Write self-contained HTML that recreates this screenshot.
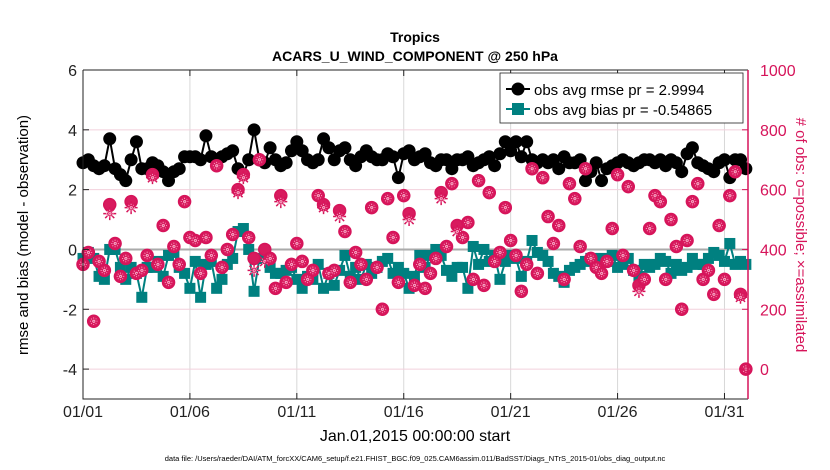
<!DOCTYPE html>
<html><head><meta charset="utf-8"><style>
body{margin:0;background:#fff;}
svg{display:block;font-family:"Liberation Sans",Arial,sans-serif;}
</style></head><body>
<svg id="chart" width="830" height="470" viewBox="0 0 830 470" xmlns="http://www.w3.org/2000/svg">
<text x="415" y="42" text-anchor="middle" font-size="14" font-weight="bold">Tropics</text>
<text x="415" y="61" text-anchor="middle" font-size="14" font-weight="bold">ACARS_U_WIND_COMPONENT @ 250 hPa</text>
<g id="grid"></g>
<g id="marks"></g>
<g id="axes"></g>
<text transform="translate(28,235) rotate(-90)" text-anchor="middle" font-size="15">rmse and bias (model - observation)</text>
<text transform="translate(796,235) rotate(90)" text-anchor="middle" font-size="15" fill="#d6145a"># of obs: o=possible; ×=assimilated</text>
<text x="415" y="441" text-anchor="middle" font-size="16">Jan.01,2015 00:00:00 start</text>
<text x="415" y="461" text-anchor="middle" font-size="7.5">data file: /Users/raeder/DAI/ATM_forcXX/CAM6_setup/f.e21.FHIST_BGC.f09_025.CAM6assim.011/BadSST/Diags_NTrS_2015-01/obs_diag_output.nc</text>
<g>
<rect x="500" y="73" width="243" height="50" fill="#fff" stroke="#222" stroke-width="0.8"/>
<line x1="506" y1="89" x2="530" y2="89" stroke="#000" stroke-width="2"/>
<circle cx="518" cy="89" r="6.5" fill="#000"/>
<text x="534" y="95" font-size="15">obs avg rmse pr = 2.9994</text>
<line x1="506" y1="109" x2="530" y2="109" stroke="#008080" stroke-width="2"/>
<rect x="512" y="103" width="12" height="12" fill="#008080"/>
<text x="534" y="115" font-size="15">obs avg bias pr = -0.54865</text>
</g>
</svg>
<script>
const tickDays = [0,5,10,15,20,25,30];
const tickLabels = ["01/01","01/06","01/11","01/16","01/21","01/26","01/31"];
const leftTicks = [-4,-2,0,2,4,6];
const rightTicks = [0,200,400,600,800,1000];
const rmse = [2.9,3.0,2.8,2.7,2.8,3.7,2.7,2.5,2.3,3.0,3.6,2.7,2.7,2.9,2.8,2.6,2.3,2.6,2.7,3.1,
3.1,3.1,3.0,3.8,3.1,3.0,3.1,3.2,3.3,2.7,2.5,3.0,4.0,3.0,2.9,3.4,3.0,2.8,2.9,3.3,
3.6,3.3,3.0,2.9,3.0,3.7,3.4,3.0,3.3,3.4,3.0,2.8,3.1,3.3,3.1,3.0,3.0,3.2,3.1,2.4,
3.2,3.3,3.0,3.1,3.2,2.9,2.8,3.0,3.0,2.7,3.0,3.0,3.1,2.8,2.9,3.0,3.1,2.8,3.2,3.6,
3.3,3.6,3.1,3.6,3.0,2.9,3.0,2.9,3.0,2.7,3.1,2.9,2.9,3.0,2.3,2.6,2.9,2.3,2.7,2.8,
2.9,3.0,2.9,2.8,2.9,3.0,3.0,2.9,3.0,2.8,3.0,2.9,2.6,3.2,3.4,2.9,2.8,2.7,2.6,2.9,3.0,2.4,3.0,3.0,2.7];
const bias = [-0.3,-0.1,-0.3,-0.9,-1.0,0.0,0.0,-0.6,-1.0,-0.6,-0.8,-1.6,-0.6,-0.6,-0.4,-0.9,-0.2,-0.1,-0.6,-0.8,
-1.3,-0.4,-1.6,-0.5,-0.4,-1.3,-1.0,-0.5,-0.3,0.6,0.7,0.0,-1.4,-0.3,-0.3,-0.6,-0.8,-0.8,-0.7,-0.6,
-1.0,-1.3,-0.9,-1.0,-0.5,-1.3,-0.8,-1.2,-0.7,-0.2,-0.9,-0.6,-1.0,-0.5,-0.8,-0.6,-0.4,-0.3,-0.8,-0.6,
-0.8,-1.3,-0.9,-0.2,-0.6,-0.2,0.0,-0.2,-0.7,-0.9,-0.6,-0.6,-1.3,0.1,-0.5,0.0,-0.4,-0.2,-1.0,-0.4,
-0.2,-0.3,-0.9,-0.4,0.3,-0.1,-0.2,-0.4,-0.8,-0.9,-1.1,-0.7,-0.6,-0.5,-0.4,-0.3,-0.4,-0.3,-0.4,-0.2,
-0.6,-0.5,-0.3,-0.7,-0.9,-0.5,-0.6,-0.5,-0.3,-0.4,-0.8,-0.5,-0.7,-0.6,-0.3,-0.5,-0.5,-0.3,-0.1,-0.2,-0.4,0.2,-0.5,-0.4,-0.5];
const possible = [350,390,160,360,330,550,420,310,370,560,320,330,380,650,350,480,290,410,350,560,
440,430,320,440,380,680,340,400,450,600,650,440,370,700,400,370,270,580,290,350,
420,360,300,330,580,550,320,330,530,460,290,390,350,300,540,340,200,570,440,290,
580,520,280,350,270,320,370,590,410,620,480,440,490,300,630,280,590,360,390,540,
430,380,260,350,670,320,640,510,420,480,300,620,570,410,670,370,340,320,360,470,
650,380,610,330,280,300,470,580,560,300,500,410,200,430,560,620,300,330,250,480,
300,580,660,250,0];
const assimilated = [350,390,160,360,330,520,420,310,370,540,320,330,380,640,350,480,290,410,350,560,
440,430,320,440,380,680,340,400,450,590,640,440,330,700,360,370,270,560,290,350,
420,360,300,330,580,540,320,330,510,460,290,390,350,300,540,340,200,570,440,290,
580,500,280,350,270,320,370,570,410,620,460,440,490,300,630,280,590,360,390,540,
430,380,260,350,670,320,640,510,420,480,300,620,570,410,670,370,340,320,360,470,
650,380,610,330,260,300,470,580,560,300,500,410,200,430,560,620,300,330,250,480,
300,580,660,240,0];

const X0=83, X1=748, D0=0, D1=31.1;
const Y0=70, Y1=399, V0=6, V1=-5;
const x = d => X0 + (d-D0)/(D1-D0)*(X1-X0);
const y = v => Y0 + (V0-v)/(V0-V1)*(Y1-Y0);
const yr = c => y((c-400)/100);
const NS="http://www.w3.org/2000/svg";
function mk(tag, attrs, parent){const e=document.createElementNS(NS,tag);for(const k in attrs)e.setAttribute(k,attrs[k]);parent.appendChild(e);return e;}
function star(cx,cy,s){return `M${cx-s},${cy} H${cx+s} M${cx},${cy-s} V${cy+s} M${cx-s*0.7},${cy-s*0.7} L${cx+s*0.7},${cy+s*0.7} M${cx-s*0.7},${cy+s*0.7} L${cx+s*0.7},${cy-s*0.7}`;}
const grid=document.getElementById('grid'), marks=document.getElementById('marks'), axes=document.getElementById('axes');

tickDays.forEach((d,i)=>{
  const g=mk('line',{x1:x(d),x2:x(d),y1:Y0,y2:Y1,stroke:'#d8d8d8','stroke-width':1},grid);
  
  
  const t=mk('line',{x1:x(d),x2:x(d),y1:Y1,y2:Y1-6,stroke:'#222'},axes);
  
  
  const t2=mk('line',{x1:x(d),x2:x(d),y1:Y0,y2:Y0+6,stroke:'#222'},axes);
  
  
  const l=mk('text',{x:x(d),y:Y1+18,'text-anchor':'middle','font-size':16,fill:'#222'},axes);
  l.textContent=tickLabels[i];
  
  
});
rightTicks.forEach(c=>{
  const g=mk('line',{x1:X0,x2:X1,y1:yr(c),y2:yr(c),stroke:'#f2d0dc','stroke-width':1},grid);
  
  
  const t=mk('line',{x1:X1,x2:X1-6,y1:yr(c),y2:yr(c),stroke:'#d6145a'},axes);
  
  
  const l=mk('text',{x:X1+12,y:yr(c)+6,'font-size':16,fill:'#d6145a'},axes);
  l.textContent=c;
  
  
});
const zl=mk('line',{x1:X0,x2:X1,y1:y(0),y2:y(0),stroke:'#aaa','stroke-width':2},grid);


leftTicks.forEach(v=>{
  const t=mk('line',{x1:X0,x2:X0+6,y1:y(v),y2:y(v),stroke:'#222'},axes);
  
  
  const l=mk('text',{x:X0-6,y:y(v)+6,'text-anchor':'end','font-size':16,fill:'#222'},axes);
  l.textContent=v;
  
  
});
const frame=mk('path',{d:`M${X0},${Y0} H${X1} M${X0},${Y0} V${Y1} H${X1}`,fill:'none',stroke:'#222','stroke-width':1},axes);


const rax=mk('line',{x1:X1,x2:X1,y1:Y0,y2:Y1,stroke:'#d6145a','stroke-width':1.5},axes);



const day = i => i*0.25;
const bl=mk('polyline',{points:bias.map((v,i)=>x(day(i))+','+y(v)).join(' '),fill:'none',stroke:'#008080','stroke-width':2},marks);


bias.forEach((v,i)=>{
  const r=mk('rect',{x:x(day(i))-5.5,y:y(v)-5.5,width:11,height:11,fill:'#008080'},marks);
  
  
});
const rl=mk('polyline',{points:rmse.map((v,i)=>x(day(i))+','+y(v)).join(' '),fill:'none',stroke:'#000','stroke-width':2},marks);


rmse.forEach((v,i)=>{
  const c=mk('circle',{cx:x(day(i)),cy:y(v),r:6.5,fill:'#000'},marks);
  
  
});
possible.forEach((c,i)=>{
  const o=mk('circle',{cx:x(day(i)),cy:yr(c),r:6,fill:'#d81b5e',stroke:'#d6145a','stroke-width':1.5},marks);
  
  
});
assimilated.forEach((c,i)=>{
  const cx=x(day(i)), cy=yr(c);
  const a=mk('path',{d:star(cx,cy,6.5),stroke:'#d6145a','stroke-width':1.5,fill:'none'},marks);
  
  
  const w=mk('path',{d:star(cx,cy,3.8),stroke:'#f7a8c4','stroke-width':0.9,'stroke-dasharray':'1.2 1','fill':'none'},marks);
  
  
});
</script>
</body></html>
